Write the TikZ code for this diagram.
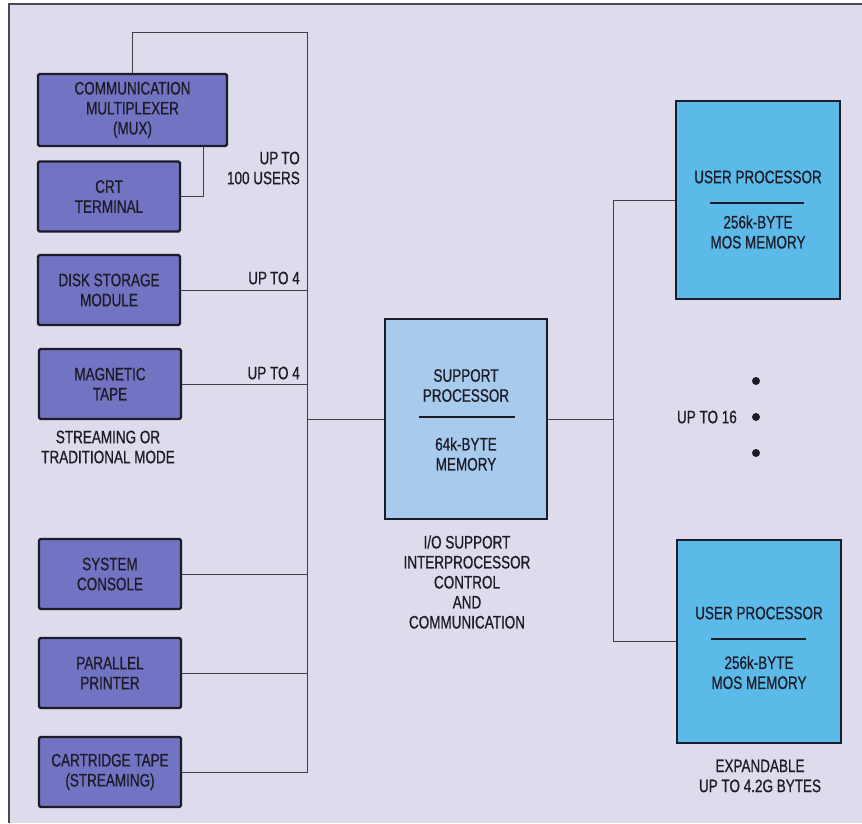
\documentclass[tikz,border=0pt]{standalone}
\usepackage{fontspec}
\setmainfont{Liberation Sans}[FakeStretch=0.75,FakeBold=0.7]
\usepackage{xcolor}
\usepackage{tikz}
\usetikzlibrary{positioning,calc}
\definecolor{panelbg}{HTML}{DDDBEC}
\definecolor{devblue}{HTML}{7373C4}
\definecolor{supblue}{HTML}{A8CAEC}
\definecolor{usrcyan}{HTML}{5CBAE8}
\definecolor{inkdark}{HTML}{1C1C28}

\begin{document}
\begin{tikzpicture}[x=1pt,y=-1pt,
  every node/.style={font=\fontsize{18}{20}\selectfont,text=inkdark,align=center,inner sep=0pt},
  device/.style={draw=inkdark,line width=2.3pt,fill=devblue,rounded corners=1.5pt,minimum width=142pt,minimum height=70pt},
  cpubox/.style={draw=inkdark,line width=2.3pt,minimum width=164pt,minimum height=200pt},
  wire/.style={draw=inkdark!85,line width=0.9pt},
  rulebar/.style={draw=inkdark,line width=1.3pt}]
  \useasboundingbox (0,0) rectangle (862,823);
  \fill[white] (0,0) rectangle (862,823);
  \fill[panelbg] (9,4) rectangle (862,823);
  \draw[inkdark!80,line width=2.5pt] (9,823) -- (9,4) -- (862,4);

  % peripherals
  \node[device,minimum width=189pt,minimum height=72pt] (mux) at (132.5,110) {COMMUNICATION\\MULTIPLEXER\\(MUX)};
  \node[device] (crt) at (109,196.5) {CRT\\TERMINAL};
  \node[device] (disk) at (109,290) {DISK STORAGE\\MODULE};
  \node[device] (tape) at (110,384) {MAGNETIC\\TAPE};
  \node[device] (console) at (110,574) {SYSTEM\\CONSOLE};
  \node[device] (printer) at (110,673) {PARALLEL\\PRINTER};
  \node[device] (cart) at (110,772) {CARTRIDGE TAPE\\(STREAMING)};

  % processors
  \node[cpubox,fill=supblue,minimum width=162pt] (sp) at (466,419) {};
  \node[cpubox,fill=usrcyan,minimum height=198pt] (up1) at (758,200) {};
  \node[cpubox,fill=usrcyan,minimum height=203pt] (up2) at (759,641.5) {};

  \coordinate (bus) at (307,32);
  \coordinate (rbus) at (613,0);

  \draw[wire] (mux.north) |- (bus) -- (bus |- cart.east) -- (cart.east);
  \draw[wire] (crt.east) -| ([xshift=70.5pt]mux.south);
  \foreach \dev in {disk,tape,console,printer}
    \draw[wire] (\dev.east) -- (\dev.east -| bus);
  \draw[wire] (sp.west -| bus) -- (sp.west);
  \draw[wire] (sp.east) -- (sp.east -| rbus);
  \draw[wire] (up1.west) -| (rbus |- up2.west) -- (up2.west);

  % texts
  \node[anchor=east,align=right] (users) at (300,168) {UP\,TO\\100 USERS};
  \node[anchor=east] (disklim) at (300,278) {UP\,TO 4};
  \node[anchor=east] (tapelim) at (300,373) {UP TO 4};
  \node (tapemode) at (108,447) {STREAMING OR\\TRADITIONAL MODE};

  \node (sptop) at (466,385.5) {SUPPORT\\PROCESSOR};
  \draw[rulebar] (419,417) -- (515,417);
  \node (spbot) at (466,454) {64k-BYTE\\MEMORY};
  \node (spnote) at (467,582) {I/O SUPPORT\\INTERPROCESSOR\\CONTROL\\AND\\COMMUNICATION};

  \node (up1top) at (758,177) {USER PROCESSOR};
  \draw[rulebar] (710,203) -- (804,203);
  \node (up1bot) at (758,232) {256k-BYTE\\MOS MEMORY};

  \node (up2top) at (759,613) {USER PROCESSOR};
  \draw[rulebar] (711,639) -- (806,639);
  \node (up2bot) at (759,672.5) {256k-BYTE\\MOS MEMORY};

  \node[anchor=east] (upcount) at (737,417) {UP TO 16};
  \foreach \dy in {-36,0,36}
    \fill[inkdark] (756,417+\dy) circle (4pt);
  \node (expnote) at (760,776) {EXPANDABLE\\UP TO 4.2G BYTES};
\end{tikzpicture}
\end{document}
